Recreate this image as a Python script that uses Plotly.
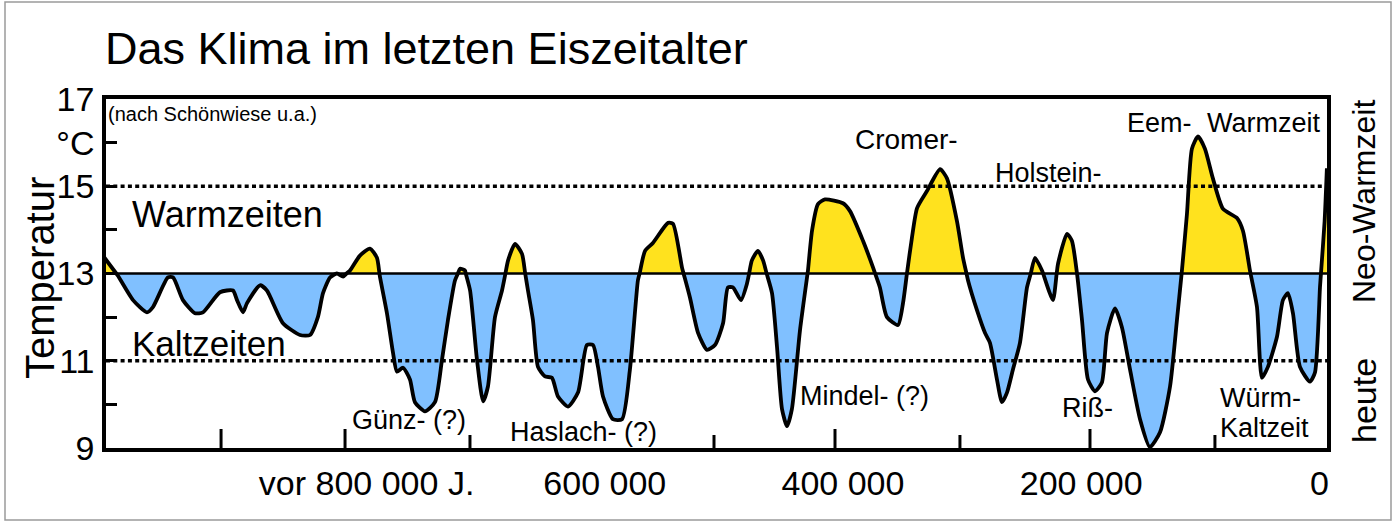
import plotly.graph_objects as go

# ---------------- data ----------------
kyr_before_present = [
    1021.4, 1008.8, 996.1, 984.4, 979.4, 966.8, 962.5, 954.2, 944.1, 937.4,
    923.1, 912.2, 908.8, 903.8, 900.4, 889.5, 883.7, 870.2, 855.9, 847.5,
    840.9, 836.6, 830.7, 824.9, 819.8, 813.9, 805.6, 797.2, 791.3, 788.7,
    782.9, 777.8, 774.5, 769.4, 763.6, 759.4, 751.0, 742.6, 736.7, 731.7,
    725.8, 721.6, 717.4, 713.1, 707.3, 702.2, 698.1, 692.2, 686.3, 681.2,
    675.4, 669.5, 664.5, 660.3, 656.1, 650.2, 644.4, 639.3, 630.9, 622.5,
    615.0, 609.9, 605.7, 601.5, 593.2, 585.5, 578.9, 572.2, 566.2, 559.6,
    546.9, 542.7, 535.2, 528.5, 521.7, 514.2, 507.5, 500.7, 496.6, 492.4,
    485.7, 480.6, 476.5, 471.4, 467.1, 459.6, 455.4, 451.2, 447.0, 442.9,
    436.1, 429.4, 426.0, 421.0, 415.1, 400.0, 394.1, 383.2, 374.8, 369.0,
    363.1, 353.8, 349.6, 346.3, 342.1, 337.8, 329.5, 318.5, 312.7, 304.3,
    299.2, 295.0, 287.5, 280.8, 276.6, 270.7, 266.5, 262.3, 257.3, 251.4,
    245.5, 238.8, 232.9, 223.7, 219.4, 211.9, 207.8, 203.5, 199.3, 194.3,
    188.4, 182.6, 178.3, 171.6, 165.8, 159.0, 150.6, 142.3, 133.8, 125.4,
    119.6, 115.4, 111.2, 107.0, 101.9, 96.1, 89.4, 80.9, 69.2, 64.2,
    58.3, 52.4, 48.2, 43.2, 35.6, 30.6, 26.4, 22.2, 16.3, 7.9,
    3.7, -0.5, -4.4, -6.3,
]
temperature_c = [
    13.41, 12.95, 12.39, 12.11, 12.23, 12.91, 12.91, 12.39, 12.09, 12.11,
    12.57, 12.61, 12.39, 12.11, 12.32, 12.73, 12.61, 11.86, 11.59, 11.59,
    12.0, 12.55, 12.91, 13.0, 12.93, 13.07, 13.41, 13.57, 13.36, 12.91,
    12.09, 11.18, 10.75, 10.84, 10.57, 10.05, 9.84, 10.05, 11.02, 11.93,
    12.84, 13.11, 13.07, 12.61, 11.02, 10.07, 10.41, 12.0, 12.61, 13.30,
    13.68, 13.45, 12.61, 11.93, 10.86, 10.64, 10.61, 10.18, 9.95, 10.27,
    11.36, 11.36, 10.86, 10.18, 9.66, 9.66, 10.80, 12.84, 13.52, 13.70,
    14.16, 14.14, 13.14, 12.45, 11.64, 11.25, 11.36, 11.86, 12.68, 12.68,
    12.39, 12.77, 13.30, 13.52, 13.30, 12.55, 11.32, 9.89, 9.5, 9.89,
    11.70, 13.07, 13.98, 14.59, 14.70, 14.61, 14.43, 13.75, 13.14, 12.68,
    12.0, 11.82, 12.32, 13.0, 13.82, 14.5, 14.89, 15.39, 15.18, 14.2,
    13.36, 12.84, 12.16, 11.64, 11.41, 10.57, 10.05, 10.27, 10.80, 11.41,
    12.68, 13.36, 13.07, 12.39, 13.23, 13.91, 13.75, 13.0, 11.93, 10.57,
    10.30, 10.5, 11.64, 12.2, 11.77, 10.80, 9.66, 9.02, 9.36, 10.41,
    11.93, 13.07, 14.36, 15.86, 16.14, 15.86, 15.18, 14.48, 14.27, 13.98,
    13.07, 12.23, 10.61, 10.86, 11.55, 12.39, 12.55, 12.09, 10.86, 10.52,
    10.73, 12.68, 14.2, 15.41,
]
reference_temp = 13
dotted_levels = [15, 11]

y_tick_vals = [9, 10, 11, 12, 13, 14, 15, 16, 17]
y_tick_text = ["9", "", "11", "", "13", "", "15", "°C", "17"]
x_label_vals = [800, 600, 400, 200, 0]
x_label_text = ["vor 800 000 J.", "600 000", "400 000", "200 000", "0"]
x_mark_vals = [922.2, 818.1, 713.2, 508.3, 406.7, 301.8, 192.6, 87.7]
x_mark_long = [True, True, False, False, True, False, True, False]

# ---------------- layout constants ----------------
W, H = 1399, 522
PL, PR, PT, PB = 106, 1327, 99, 448
X_RANGE = [1018.8, -6.4]
Y_RANGE = [9, 17]
FONT = "Liberation Sans, Arial, sans-serif"
YELLOW = "#FFE21E"
BLUE = "#80C0FF"


def px(x):
    return (x - PL) / (PR - PL)


def py(y):
    return (PB - y) / (PB - PT)


# insert crossing points with the reference line so the fills split cleanly
xs, ts = [], []
for i, (k, t) in enumerate(zip(kyr_before_present, temperature_c)):
    if i > 0:
        k0, t0 = kyr_before_present[i - 1], temperature_c[i - 1]
        if (t0 - reference_temp) * (t - reference_temp) < 0:
            f = (reference_temp - t0) / (t - t0)
            xs.append(k0 + f * (k - k0))
            ts.append(reference_temp)
    xs.append(k)
    ts.append(t)
warm = [max(t, reference_temp) for t in ts]
cold = [min(t, reference_temp) for t in ts]
base = [reference_temp] * len(xs)

fig = go.Figure()
common = dict(mode="lines", hoverinfo="skip", showlegend=False)
fig.add_trace(go.Scatter(x=xs, y=base, line=dict(width=0), **common))
fig.add_trace(go.Scatter(x=xs, y=warm, fill="tonexty", fillcolor=YELLOW,
                         line=dict(width=0, shape="spline", smoothing=0.6), **common))
fig.add_trace(go.Scatter(x=xs, y=base, line=dict(width=0), **common))
fig.add_trace(go.Scatter(x=xs, y=cold, fill="tonexty", fillcolor=BLUE,
                         line=dict(width=0, shape="spline", smoothing=0.6), **common))
for lvl in dotted_levels:
    fig.add_trace(go.Scatter(x=X_RANGE, y=[lvl, lvl],
                             line=dict(color="black", width=3.5, dash="4px,3.3px"), **common))
fig.add_trace(go.Scatter(x=X_RANGE, y=[reference_temp, reference_temp],
                         line=dict(color="black", width=2.6), **common))
fig.add_trace(go.Scatter(x=xs, y=ts,
                         line=dict(color="black", width=3.8, shape="spline", smoothing=0.6), **common))

shapes = []
for xv, lg in zip(x_mark_vals, x_mark_long):
    shapes.append(dict(type="line", xref="x", yref="paper", x0=xv, x1=xv,
                       y0=0, y1=(19 if lg else 13) / (PB - PT),
                       line=dict(color="black", width=3)))
shapes.append(dict(type="rect", xref="paper", yref="paper",
                   x0=px(5), x1=px(1391), y0=py(520), y1=py(2),
                   line=dict(color="#9a9a9a", width=1.5)))


def ann(text, x, y, size, xanchor="left", angle=0):
    return dict(text=text, x=px(x), y=py(y), xref="paper", yref="paper",
                xanchor=xanchor, yanchor="middle", showarrow=False, textangle=angle,
                font=dict(family=FONT, size=size, color="black"))


annotations = [
    ann("Das Klima im letzten Eiszeitalter", 103, 48, 45),
    ann("Temperatur", 40, 278, 40, xanchor="center", angle=-90),
    ann("(nach Schönwiese u.a.)", 106, 114, 20),
    ann("Warmzeiten", 130, 214, 36),
    ann("Kaltzeiten", 130, 343, 35),
    ann("Günz- (?)", 350, 420, 27),
    ann("Haslach- (?)", 508, 432, 27),
    ann("Mindel- (?)", 798, 396, 27),
    ann("Cromer-", 853, 139, 28),
    ann("Holstein-", 993, 173, 27),
    ann("Eem-", 1125, 123, 27),
    ann("Warmzeit", 1205, 123, 27),
    ann("Riß-", 1060, 408, 27),
    ann("Würm-", 1218, 398, 27),
    ann("Kaltzeit", 1218, 428, 27),
    ann("Neo-Warmzeit", 1364, 202, 32, xanchor="center", angle=-90),
    ann("heute", 1364, 401, 34, xanchor="center", angle=-90),
]

fig.update_layout(
    width=W, height=H,
    margin=dict(l=PL, r=W - PR, t=PT, b=H - PB, pad=0),
    paper_bgcolor="white", plot_bgcolor="white",
    font=dict(family=FONT, color="black"),
    shapes=shapes, annotations=annotations,
    xaxis=dict(range=X_RANGE, showgrid=False, zeroline=False,
               showline=True, mirror=True, linecolor="black", linewidth=3.5,
               tickmode="array", tickvals=x_label_vals, ticktext=x_label_text,
               ticks="", tickfont=dict(family=FONT, size=34, color="black"),
               ticklabelstandoff=2),
    yaxis=dict(range=Y_RANGE, showgrid=False, zeroline=False,
               showline=True, mirror=True, linecolor="black", linewidth=3.5,
               tickmode="array", tickvals=y_tick_vals, ticktext=y_tick_text,
               ticks="inside", ticklen=11, tickwidth=3, tickcolor="black",
               tickfont=dict(family=FONT, size=34, color="black"),
               ticklabelstandoff=1),
)

fig.write_html("out.html", config={"displayModeBar": False},
               post_script="document.body.style.margin='0';")
